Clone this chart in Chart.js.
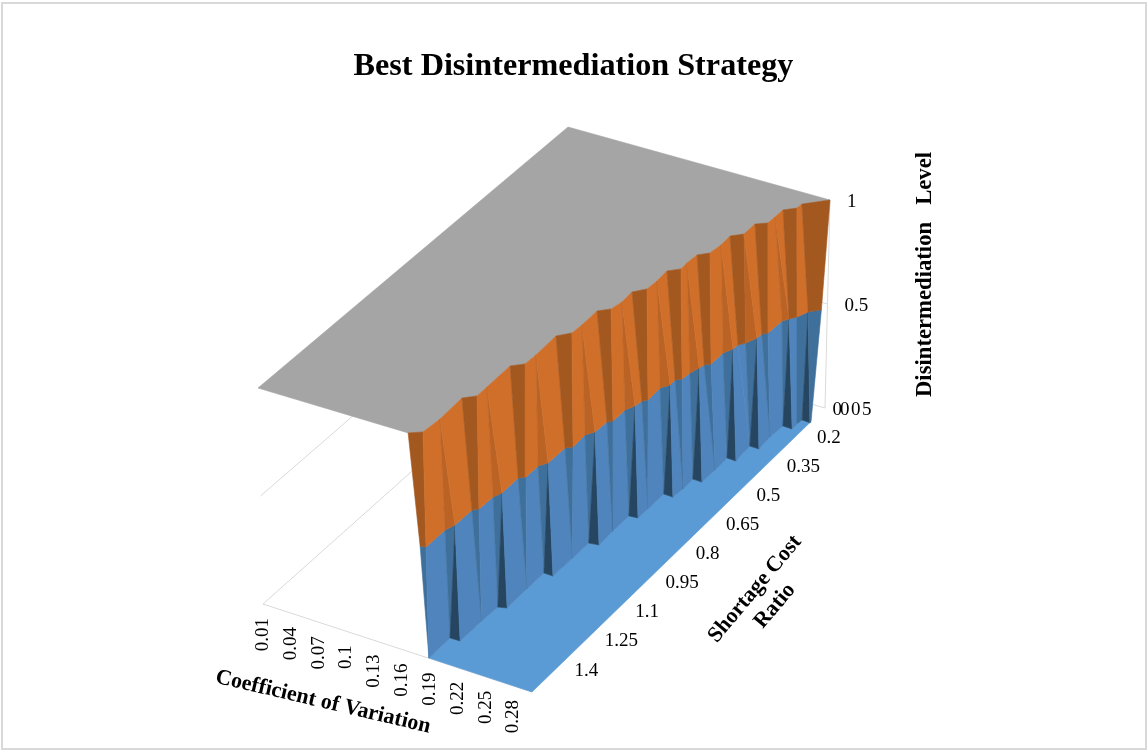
<!DOCTYPE html>
<html>
<head>
<meta charset="utf-8">
<title>Best Disintermediation Strategy</title>
<script src="https://cdn.jsdelivr.net/npm/chart.js@4/dist/chart.umd.min.js"></script>
<style>
  body { margin: 0; background: #fff; }
  canvas { display: block; }
</style>
</head>
<body>
<canvas id="surface" width="1147" height="751"></canvas>
<script>
// axis ticks
const cvTicks = ["0.01", "0.04", "0.07", "0.1", "0.13", "0.16", "0.19", "0.22", "0.25", "0.28"];
const ratioTicks = ["0.2", "0.35", "0.5", "0.65", "0.8", "0.95", "1.1", "1.25", "1.4"];
const levelTicks = ["1", "0.5"];
const cvRange = [0.01, 0.3];
const ratioRange = [0.2, 1.65];

// where the strategy falls from level 1 to level 0, as (cv, ratio) along each contour
const crestCv = [.1689, .1798, .1816, .1801, .1902, .1900, .1894, .1996, .2002, .1990, .2092, .2100, .2094, .2190, .2215, .2205, .2300, .2309, .2298, .2395, .2389, .2398, .2487, .2505, .2496, .2594, .2593, .2692, .2695, .2697, .2796, .2801, .3000];
const crestRatio = [1.650, 1.628, 1.555, 1.443, 1.416, 1.368, 1.254, 1.228, 1.178, 1.077, 1.046, 1.001, .926, .901, .860, .807, .777, .733, .680, .655, .624, .579, .556, .510, .463, .439, .385, .366, .333, .295, .271, .249, .200];
const midCv = [.1805, .1861, .1863, .1899, .1903, .1950, .1957, .1994, .1991, .2047, .2046, .2101, .2106, .2162, .2153, .2208, .2217, .2258, .2258, .2305, .2318, .2358, .2350, .2406, .2402, .2452, .2464, .2495, .2510, .2559, .2560, .2608, .2613, .2662, .2710, .2715, .2758, .2767, .2809, .2858, .2906, .3000];
const midRatio = [1.650, 1.647, 1.556, 1.524, 1.444, 1.431, 1.366, 1.339, 1.260, 1.247, 1.188, 1.164, 1.084, 1.070, 1.008, .984, .930, .919, .861, .833, .805, .793, .731, .707, .681, .669, .636, .605, .587, .575, .517, .490, .468, .451, .418, .396, .385, .320, .304, .287, .254, .230];
const footCv = [.1887, .1885, .1991, .1995, .2006, .2088, .2085, .2087, .2187, .2193, .2196, .2296, .2288, .2292, .2384, .2387, .2391, .2493, .2507, .2503, .2605, .2609, .2605, .2708, .2694, .2797, .2785, .2799, .2903, .2901, .2909, .3000, .3000];
const footRatio = [1.649, 1.545, 1.544, 1.441, 1.366, 1.358, 1.260, 1.177, 1.178, 1.085, 1.006, 1.001, .931, .852, .849, .802, .725, .726, .682, .632, .633, .570, .509, .511, .436, .437, .377, .319, .320, .290, .273, .275, .269];

// facets between contours: from, to on the upper one, from, to on the lower one, shade
const upperFacets = [
  [0, 1, 0, 1, "dark"], [1, 2, 1, 2, "base"], [2, 2, 2, 3, "mid"], [2, 3, 3, 4, "base"],
  [3, 4, 4, 5, "dark"], [4, 5, 5, 6, "base"], [5, 5, 6, 7, "mid"], [5, 6, 7, 8, "base"],
  [6, 7, 8, 9, "dark"], [7, 8, 9, 10, "base"], [8, 8, 10, 11, "mid"], [8, 9, 11, 12, "base"],
  [9, 10, 12, 13, "dark"], [10, 11, 13, 14, "base"], [11, 11, 14, 15, "mid"], [11, 12, 15, 16, "base"],
  [12, 13, 16, 17, "dark"], [13, 14, 17, 18, "base"], [14, 14, 18, 19, "mid"], [14, 15, 19, 20, "base"],
  [15, 16, 20, 21, "dark"], [16, 17, 21, 22, "base"], [17, 17, 22, 23, "mid"], [17, 18, 23, 24, "base"],
  [18, 19, 24, 25, "dark"], [19, 20, 25, 26, "base"], [20, 20, 26, 27, "mid"], [20, 21, 27, 28, "base"],
  [21, 22, 28, 29, "dark"], [22, 23, 29, 30, "base"], [23, 23, 30, 31, "mid"], [23, 24, 31, 32, "base"],
  [24, 25, 32, 33, "dark"], [25, 25, 33, 34, "mid"], [25, 26, 34, 35, "base"], [26, 27, 35, 36, "dark"],
  [27, 28, 36, 37, "base"], [28, 28, 37, 38, "mid"], [28, 29, 38, 38, "base"], [29, 30, 38, 39, "dark"],
  [30, 31, 39, 40, "base"], [31, 32, 40, 41, "dark"]
];
const lowerFacets = [
  [0, 1, 0, 0, "mid"], [1, 2, 0, 1, "base"], [2, 3, 1, 1, "mid"], [3, 3, 1, 2, "dark"],
  [3, 4, 2, 3, "base"], [4, 5, 3, 3, "mid"], [5, 6, 3, 4, "base"], [6, 7, 4, 4, "mid"],
  [7, 7, 4, 5, "dark"], [7, 8, 5, 6, "base"], [8, 9, 6, 6, "mid"], [9, 10, 6, 7, "base"],
  [10, 11, 7, 7, "mid"], [11, 11, 7, 8, "dark"], [11, 12, 8, 9, "base"], [12, 13, 9, 9, "mid"],
  [13, 14, 9, 10, "base"], [14, 15, 10, 10, "mid"], [15, 15, 10, 11, "dark"], [15, 16, 11, 12, "base"],
  [16, 17, 12, 12, "mid"], [17, 18, 12, 13, "base"], [18, 19, 13, 13, "mid"], [19, 19, 13, 14, "dark"],
  [19, 20, 14, 15, "base"], [20, 21, 15, 15, "mid"], [21, 22, 15, 16, "base"], [22, 23, 16, 16, "mid"],
  [23, 23, 16, 17, "dark"], [23, 24, 17, 18, "base"], [24, 25, 18, 18, "mid"], [25, 26, 18, 19, "base"],
  [26, 27, 19, 19, "mid"], [27, 27, 19, 20, "dark"], [27, 28, 20, 21, "base"], [28, 29, 21, 21, "mid"],
  [29, 30, 21, 22, "base"], [30, 31, 22, 22, "mid"], [31, 31, 22, 23, "dark"], [31, 32, 23, 24, "base"],
  [32, 33, 24, 24, "base"], [33, 34, 24, 24, "mid"], [34, 34, 24, 25, "dark"], [34, 35, 25, 26, "base"],
  [35, 36, 26, 26, "mid"], [36, 37, 26, 27, "base"], [37, 38, 27, 27, "mid"], [38, 38, 27, 28, "dark"],
  [38, 39, 28, 29, "base"], [39, 40, 29, 30, "mid"], [40, 40, 30, 31, "dark"], [40, 41, 31, 32, "mid"]
];

const orange = { base: "#CF6F2A", mid: "#BA6325", dark: "#A35820" };
const blue = { base: "#4F85BC", mid: "#3F6F9B", dark: "#254560" };
const floorBlue = "#5B9BD5";
const topGray = "#A5A5A5";
const gridGray = "#D9D9D9";
const serif = "'Liberation Serif', 'Times New Roman', serif";

// the box corners on the page, [ratio low / high] x [cv low / high]
const boxFloor = { ll: [567, 333], hl: [825, 408], lh: [263, 604], hh: [532, 692] };
const boxTop = { ll: [568, 127], hl: [830, 200], lh: [258, 388], hh: [532, 470] };

function project(cv, ratio, level) {
  const u = (cv - cvRange[0]) / (cvRange[1] - cvRange[0]);
  const v = (ratio - ratioRange[0]) / (ratioRange[1] - ratioRange[0]);
  const corner = (box, i) =>
    (1 - u) * (1 - v) * box.ll[i] + u * (1 - v) * box.hl[i] + (1 - u) * v * box.lh[i] + u * v * box.hh[i];
  return {
    x: corner(boxFloor, 0) * (1 - level) + corner(boxTop, 0) * level,
    y: corner(boxFloor, 1) * (1 - level) + corner(boxTop, 1) * level
  };
}

const crest = crestCv.map((c, i) => project(c, crestRatio[i], 1));
const mid = midCv.map((c, i) => project(c, midRatio[i], 0.5));
const foot = footCv.map((c, i) => project(c, footRatio[i], 0));

function polygon(points, color) {
  return {
    data: points,
    showLine: true,
    fill: "shape",
    backgroundColor: color,
    borderColor: color,
    borderWidth: 0.6,
    pointRadius: 0
  };
}

function gridLine(from, to) {
  return {
    data: [project(...from), project(...to)],
    showLine: true,
    borderColor: gridGray,
    borderWidth: 1,
    pointRadius: 0
  };
}

function facets(list, upper, lower, shades) {
  return list.map((f) => {
    const pts = [upper[f[0]]];
    if (f[1] != f[0]) pts.push(upper[f[1]]);
    pts.push(lower[f[3]]);
    if (f[2] != f[3]) pts.push(lower[f[2]]);
    pts.push(pts[0]);
    return polygon(pts, shades[f[4]]);
  });
}

const [cvLo, cvHi] = cvRange;
const [rLo, rHi] = ratioRange;

// painted back to front
const layers = [
  gridLine([cvLo, rHi, 0], [cvHi, rHi, 0]),
  gridLine([cvLo, rHi, 0], [cvLo, rLo, 0]),
  gridLine([cvLo, rLo, 0], [cvHi, rLo, 0]),
  gridLine([cvLo, rHi, 0.5], [cvLo, rLo, 0.5]),
  gridLine([cvLo, rLo, 0.5], [cvHi, rLo, 0.5]),
  gridLine([cvHi, rLo, 0], [cvHi, rLo, 1]),
  polygon([...foot, project(cvHi, rHi, 0), foot[0]], floorBlue),
  polygon([...crest, project(cvLo, rLo, 1), project(cvLo, rHi, 1), crest[0]], topGray),
  ...facets(lowerFacets, mid, foot, blue),
  ...facets(upperFacets, crest, mid, orange)
];

const textPlugin = {
  id: "surfaceText",
  afterDatasetsDraw(chart) {
    const { ctx, scales } = chart;
    const px = (p) => [scales.x.getPixelForValue(p.x), scales.y.getPixelForValue(p.y)];

    const put = (text, x, y, font, angle, align) => {
      ctx.save();
      ctx.translate(x, y);
      ctx.rotate((angle * Math.PI) / 180);
      ctx.font = font;
      ctx.fillStyle = "#000";
      ctx.textAlign = align;
      ctx.textBaseline = "middle";
      ctx.fillText(text, 0, 0);
      ctx.restore();
    };

    const tickFont = "19px " + serif;
    const titleFont = "bold 22px " + serif;

    cvTicks.forEach((t) => {
      const [x, y] = px(project(parseFloat(t), rHi, 0));
      put(t, x, y + 14, tickFont, -90, "right");
    });
    ratioTicks.forEach((t) => {
      const r = parseFloat(t);
      const [x, y] = px(project(cvHi, r, 0));
      // labels sit a little lower towards the far end of the axis
      put(t, x - 8, y + 27.5 + (1.4 - r) * 2, tickFont, 0, "left");
    });
    levelTicks.forEach((t) => {
      const [x, y] = px(project(cvHi, rLo, parseFloat(t)));
      put(t, x + 17, y + 2, tickFont, 0, "left");
    });
    // the zero label collides with its neighbour at the foot of the axis
    const [zx, zy] = px(project(cvHi, rLo, 0));
    put("0", zx + 7.5, zy + 2, tickFont, 0, "left");
    ctx.save();
    ctx.letterSpacing = "1.5px";
    put("005", zx + 15, zy + 2, tickFont, 0, "left");
    ctx.restore();

    put("Coefficient of Variation", 323, 702, titleFont, 13.2, "center");
    put("Shortage Cost", 755, 589, titleFont, -50, "center");
    put("Ratio", 775, 606, titleFont, -50, "center");
    put("Disintermediation   Level", 925, 274.5, "bold 22.7px " + serif, -90, "center");

    // chart frame
    ctx.save();
    ctx.strokeStyle = gridGray;
    ctx.lineWidth = 2;
    ctx.strokeRect(2, 3, 1144, 746);
    ctx.restore();
  }
};

new Chart(document.getElementById("surface"), {
  type: "scatter",
  data: { datasets: layers.reverse() },
  plugins: [textPlugin],
  options: {
    responsive: false,
    animation: false,
    events: [],
    layout: { padding: 0 },
    scales: {
      x: { type: "linear", min: 0, max: 1147, display: false },
      y: { type: "linear", min: 100, max: 751, reverse: true, display: false }
    },
    plugins: {
      legend: { display: false },
      tooltip: { enabled: false },
      title: {
        display: true,
        text: "Best Disintermediation Strategy",
        color: "#000",
        font: { family: serif, size: 32.2, weight: "bold" },
        padding: { top: 47, bottom: 14.36 }
      }
    }
  }
});
</script>
</body>
</html>
